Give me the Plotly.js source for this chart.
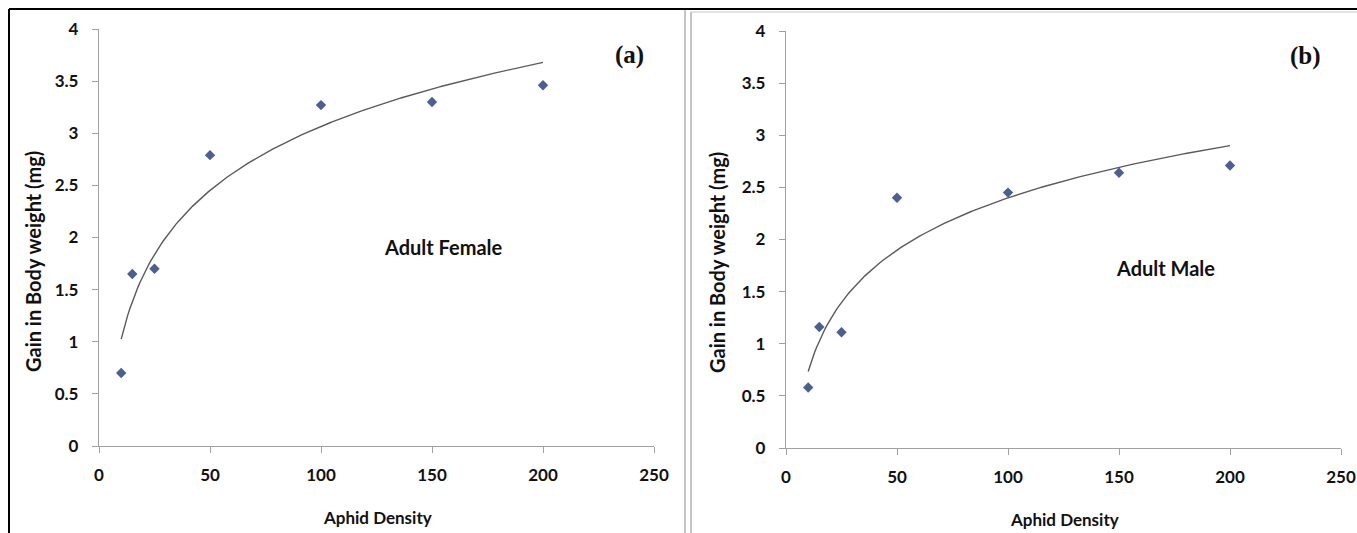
<!DOCTYPE html>
<html>
<head>
<meta charset="utf-8">
<script src="https://cdn.plot.ly/plotly-3.0.1.min.js"></script>
<style>
html,body{margin:0;padding:0;background:#fff;}
#chart{width:1357px;height:533px;}
</style>
</head>
<body>
<div id="chart"></div>
<script>
// ---- data ----
const aphidDensity = [10, 15, 25, 50, 100, 150, 200];
const femaleGain = [0.70, 1.65, 1.70, 2.79, 3.27, 3.30, 3.46];
const maleGain = [0.58, 1.16, 1.11, 2.40, 2.45, 2.64, 2.71];
const panelLabels = ['(a)', '(b)'];
const panelNotes = ['Adult Female', 'Adult Male'];
const xTitle = 'Aphid Density';
const yTitle = 'Gain in Body weight (mg)';

// Excel-style logarithmic trendline (least squares on ln x)
function logFit(xs, ys) {
  const lx = xs.map(Math.log);
  const n = xs.length;
  const mx = lx.reduce((a, b) => a + b, 0) / n;
  const my = ys.reduce((a, b) => a + b, 0) / n;
  let sxy = 0, sxx = 0;
  for (let i = 0; i < n; i++) { sxy += (lx[i] - mx) * (ys[i] - my); sxx += (lx[i] - mx) ** 2; }
  const a = sxy / sxx, b = my - a * mx;
  const x0 = Math.min(...xs), x1 = Math.max(...xs);
  const tx = [], ty = [];
  for (let i = 0; i <= 200; i++) {
    const x = x0 + (x1 - x0) * i / 200;
    tx.push(x); ty.push(a * Math.log(x) + b);
  }
  return {tx, ty};
}

const W = 1357, H = 533;
const px = x => x / W;
const py = y => 1 - y / H;

const FONT = 'Lato, "Open Sans", sans-serif';
const AX = '#a0a0a0';
const markerColor = '#4a6090';
const lineColor = '#5a5a5a';

const fF = logFit(aphidDensity, femaleGain);
const fM = logFit(aphidDensity, maleGain);

const traces = [
  {x: fF.tx, y: fF.ty, xaxis: 'x', yaxis: 'y', mode: 'lines', line: {color: lineColor, width: 1.4}, hoverinfo: 'skip'},
  {x: aphidDensity, y: femaleGain, xaxis: 'x', yaxis: 'y', mode: 'markers', marker: {symbol: 'diamond', size: 8, color: markerColor}},
  {x: fM.tx, y: fM.ty, xaxis: 'x2', yaxis: 'y2', mode: 'lines', line: {color: lineColor, width: 1.4}, hoverinfo: 'skip'},
  {x: aphidDensity, y: maleGain, xaxis: 'x2', yaxis: 'y2', mode: 'markers', marker: {symbol: 'diamond', size: 8, color: markerColor}}
];

const tickFont = {family: FONT, size: 17, color: '#111', weight: 'bold'};

function xax(d0, d1, anchor) {
  return {domain: [px(d0), px(d1)], range: [0, 250], dtick: 50, tick0: 0, anchor: anchor,
    showline: true, linecolor: AX, linewidth: 1.2, ticks: 'outside', ticklen: 6, tickcolor: AX, tickwidth: 1,
    showgrid: false, zeroline: false, ticklabelstandoff: 7,
    tickfont: tickFont};
}
function yax(top, bottom, anchor) {
  return {domain: [py(bottom), py(top)], range: [0, 4], dtick: 0.5, tick0: 0, anchor: anchor,
    showline: true, linecolor: AX, linewidth: 1.2, ticks: 'outside', ticklen: 6, tickcolor: AX, tickwidth: 1,
    showgrid: false, zeroline: false, ticklabelstandoff: 10,
    tickfont: tickFont};
}

const xTitleFont = {family: FONT, size: 17, color: '#111', weight: 'bold'};
const yTitleFont = {family: FONT, size: 20, color: '#111', weight: 'bold'};
const noteFont = {family: FONT, size: 20, color: '#111', weight: 'bold'};
const labelFont = {family: '"Liberation Serif", "DejaVu Serif", serif', size: 25, color: '#111', weight: 'bold'};

const annotations = [
  {text: xTitle, x: px(377), y: py(517), xref: 'paper', yref: 'paper', showarrow: false, font: xTitleFont, xanchor: 'center', yanchor: 'middle'},
  {text: xTitle, x: px(1064), y: py(519), xref: 'paper', yref: 'paper', showarrow: false, font: xTitleFont, xanchor: 'center', yanchor: 'middle'},
  {text: yTitle, x: px(33), y: py(262), xref: 'paper', yref: 'paper', showarrow: false, font: yTitleFont, textangle: -90, xanchor: 'center', yanchor: 'middle'},
  {text: yTitle, x: px(717), y: py(263), xref: 'paper', yref: 'paper', showarrow: false, font: yTitleFont, textangle: -90, xanchor: 'center', yanchor: 'middle'},
  {text: panelNotes[0], x: px(444), y: py(247), xref: 'paper', yref: 'paper', showarrow: false, font: noteFont, xanchor: 'center', yanchor: 'middle'},
  {text: panelNotes[1], x: px(1165), y: py(268), xref: 'paper', yref: 'paper', showarrow: false, font: noteFont, xanchor: 'center', yanchor: 'middle'},
  {text: panelLabels[0], x: px(629), y: py(55), xref: 'paper', yref: 'paper', showarrow: false, font: labelFont, xanchor: 'center', yanchor: 'middle'},
  {text: panelLabels[1], x: px(1305), y: py(56), xref: 'paper', yref: 'paper', showarrow: false, font: labelFont, xanchor: 'center', yanchor: 'middle'}
];

const shapes = [
  {type: 'line', xref: 'paper', yref: 'paper', x0: px(9), x1: 1, y0: py(9), y1: py(9), line: {color: '#000', width: 2}},
  {type: 'line', xref: 'paper', yref: 'paper', x0: px(9), x1: px(9), y0: py(9), y1: 0, line: {color: '#000', width: 2}},
  {type: 'line', xref: 'paper', yref: 'paper', x0: px(685), x1: px(685), y0: py(10), y1: 0, line: {color: '#b0b0b0', width: 1.5}},
  {type: 'line', xref: 'paper', yref: 'paper', x0: px(691), x1: px(691), y0: py(12), y1: 0, line: {color: '#b0b0b0', width: 1.5}},
  {type: 'line', xref: 'paper', yref: 'paper', x0: px(691), x1: 1, y0: py(12), y1: py(12), line: {color: '#c8c8c8', width: 1}}
];

const layout = {
  width: W, height: H,
  margin: {l: 0, r: 0, t: 0, b: 0},
  paper_bgcolor: '#fff', plot_bgcolor: 'rgba(0,0,0,0)',
  showlegend: false,
  xaxis: xax(99, 654, 'y'),
  yaxis: yax(29, 446, 'x'),
  xaxis2: xax(786, 1341, 'y2'),
  yaxis2: yax(31, 448, 'x2'),
  annotations: annotations,
  shapes: shapes
};

Plotly.newPlot('chart', traces, layout, {displayModeBar: false, staticPlot: true});
</script>
</body>
</html>
